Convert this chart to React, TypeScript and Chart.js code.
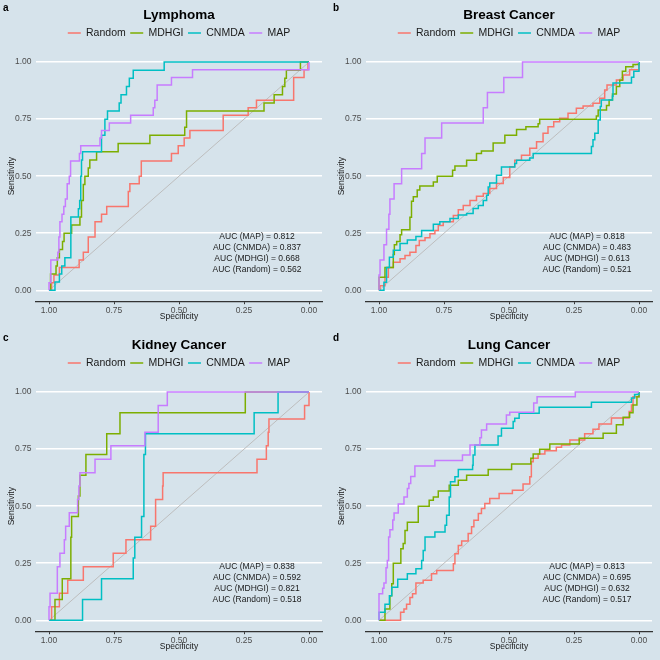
import { useEffect, useRef } from 'react';
import { Chart, registerables } from 'chart.js';

Chart.register(...registerables);

type Pt = [number, number]; // [specificity, sensitivity]

const FONT = '"Liberation Sans", Arial, Helvetica, sans-serif';
const BG = '#d6e3eb';

const methods = ['Random', 'MDHGI', 'CNMDA', 'MAP'];
const methodColors = ['#F8766D', '#7CAE00', '#00BFC4', '#C77CFF'];
const panelTitles = ['Lymphoma', 'Breast Cancer', 'Kidney Cancer', 'Lung Cancer'];
const panelLetters = ['a', 'b', 'c', 'd'];

const aucMAP = [0.812, 0.818, 0.838, 0.813];
const aucCNMDA = [0.837, 0.483, 0.592, 0.695];
const aucMDHGI = [0.668, 0.613, 0.821, 0.632];
const aucRandom = [0.562, 0.521, 0.518, 0.517];

const axisTicks = [0, 0.25, 0.5, 0.75, 1];
const axisTickLabels = ['0.00', '0.25', '0.50', '0.75', '1.00'];

const chanceLine: Pt[] = [[1, 0], [0, 1]];

// ---------- Lymphoma ----------
const lymphomaRandom: Pt[] = [[1,0],[0.99,0.033],[0.981,0.067],[0.960,0.1],[0.884,0.133],[0.868,0.167],[0.849,0.233],[0.823,0.3],[0.798,0.333],[0.778,0.367],[0.695,0.433],[0.689,0.467],[0.653,0.5],[0.645,0.567],[0.529,0.6],[0.503,0.633],[0.480,0.667],[0.458,0.7],[0.330,0.767],[0.234,0.8],[0.202,0.833],[0.059,0.933],[0.019,0.967],[0.004,1],[0,1]];
const lymphomaMDHGI: Pt[] = [[1,0],[0.994,0.071],[0.973,0.107],[0.968,0.143],[0.960,0.179],[0.948,0.214],[0.942,0.25],[0.913,0.286],[0.881,0.321],[0.875,0.393],[0.868,0.464],[0.862,0.5],[0.849,0.536],[0.843,0.571],[0.817,0.607],[0.734,0.643],[0.612,0.679],[0.478,0.714],[0.471,0.786],[0.173,0.821],[0.134,0.857],[0.102,0.893],[0.093,0.929],[0.087,0.964],[0.033,1],[0,1]];
const lymphomaCNMDA: Pt[] = [[1,0],[0.977,0.036],[0.960,0.071],[0.951,0.107],[0.939,0.143],[0.916,0.321],[0.887,0.357],[0.882,0.393],[0.878,0.5],[0.875,0.571],[0.871,0.607],[0.798,0.679],[0.785,0.75],[0.775,0.786],[0.730,0.821],[0.723,0.857],[0.702,0.893],[0.691,0.929],[0.676,0.964],[0.557,1],[0,1]];
const lymphomaMAP: Pt[] = [[1,0],[1,0.033],[0.993,0.133],[0.966,0.167],[0.962,0.233],[0.958,0.3],[0.950,0.333],[0.943,0.367],[0.937,0.4],[0.930,0.467],[0.922,0.5],[0.917,0.567],[0.883,0.6],[0.878,0.633],[0.804,0.667],[0.798,0.7],[0.768,0.733],[0.686,0.767],[0.599,0.8],[0.593,0.833],[0.584,0.9],[0.529,0.933],[0.448,0.967],[0,1]];

// ---------- Breast Cancer ----------
const breastRandom: Pt[] = [[1,0],[0.996,0.02],[0.977,0.057],[0.964,0.1],[0.945,0.123],[0.919,0.138],[0.9,0.152],[0.881,0.167],[0.858,0.196],[0.845,0.218],[0.823,0.23],[0.804,0.248],[0.785,0.262],[0.772,0.284],[0.753,0.3],[0.714,0.328],[0.695,0.353],[0.676,0.372],[0.65,0.394],[0.625,0.412],[0.599,0.424],[0.574,0.446],[0.548,0.468],[0.522,0.494],[0.497,0.541],[0.478,0.57],[0.452,0.592],[0.42,0.622],[0.394,0.651],[0.369,0.688],[0.35,0.717],[0.328,0.739],[0.305,0.754],[0.273,0.776],[0.241,0.798],[0.215,0.808],[0.177,0.82],[0.151,0.842],[0.132,0.878],[0.123,0.9],[0.087,0.922],[0.061,0.944],[0.036,0.966],[0,1]];
const breastMDHGI: Pt[] = [[1,0],[1,0.057],[0.977,0.1],[0.945,0.157],[0.941,0.2],[0.932,0.214],[0.919,0.243],[0.913,0.265],[0.881,0.32],[0.875,0.39],[0.868,0.41],[0.853,0.44],[0.843,0.457],[0.791,0.475],[0.776,0.5],[0.717,0.526],[0.708,0.545],[0.663,0.57],[0.625,0.6],[0.606,0.61],[0.561,0.645],[0.516,0.68],[0.471,0.705],[0.435,0.717],[0.388,0.73],[0.382,0.75],[0.164,0.764],[0.157,0.79],[0.125,0.81],[0.115,0.834],[0.102,0.86],[0.087,0.893],[0.074,0.92],[0.064,0.96],[0.051,0.98],[0.023,0.99],[0,1]];
const breastCNMDA: Pt[] = [[1,0],[0.981,0.035],[0.971,0.1],[0.960,0.145],[0.945,0.175],[0.919,0.205],[0.891,0.22],[0.858,0.236],[0.836,0.262],[0.791,0.289],[0.766,0.3],[0.727,0.315],[0.695,0.33],[0.663,0.336],[0.638,0.358],[0.618,0.372],[0.599,0.394],[0.586,0.416],[0.580,0.453],[0.574,0.47],[0.548,0.504],[0.529,0.54],[0.478,0.556],[0.471,0.57],[0.420,0.58],[0.407,0.6],[0.183,0.63],[0.177,0.66],[0.170,0.688],[0.157,0.746],[0.149,0.805],[0.145,0.834],[0.102,0.85],[0.100,0.908],[0.029,0.934],[0.020,0.96],[0,1]];
const breastMAP: Pt[] = [[1,0],[1,0.067],[0.996,0.133],[0.981,0.2],[0.971,0.267],[0.962,0.333],[0.958,0.4],[0.942,0.467],[0.913,0.533],[0.836,0.6],[0.823,0.667],[0.759,0.733],[0.599,0.8],[0.583,0.867],[0.520,0.933],[0.448,1],[0,1]];

// ---------- Kidney Cancer ----------
const kidneyRandom: Pt[] = [[1,0],[0.990,0.059],[0.960,0.118],[0.928,0.176],[0.868,0.235],[0.753,0.294],[0.704,0.353],[0.609,0.412],[0.590,0.529],[0.563,0.588],[0.561,0.647],[0.200,0.706],[0.164,0.765],[0.157,0.824],[0.154,0.882],[0.017,0.941],[0,1]];
const kidneyMDHGI: Pt[] = [[1,0],[0.977,0.091],[0.949,0.182],[0.916,0.364],[0.913,0.455],[0.887,0.545],[0.881,0.636],[0.858,0.727],[0.778,0.818],[0.727,0.909],[0.245,1],[0,1]];
const kidneyCNMDA: Pt[] = [[1,0],[0.871,0.091],[0.798,0.182],[0.676,0.273],[0.670,0.364],[0.644,0.455],[0.635,0.727],[0.629,0.818],[0.211,0.909],[0.119,1],[0,1]];
const kidneyMAP: Pt[] = [[1,0],[1,0.059],[0.996,0.118],[0.968,0.235],[0.958,0.294],[0.941,0.353],[0.936,0.412],[0.922,0.471],[0.890,0.529],[0.885,0.588],[0.881,0.647],[0.823,0.706],[0.762,0.765],[0.631,0.824],[0.580,0.941],[0.545,1],[0,1]];

// ---------- Lung Cancer ----------
const lungRandom: Pt[] = [[1,0],[0.917,0.035],[0.904,0.05],[0.894,0.07],[0.881,0.1],[0.871,0.116],[0.858,0.163],[0.830,0.175],[0.798,0.204],[0.778,0.218],[0.714,0.248],[0.708,0.292],[0.695,0.328],[0.682,0.347],[0.657,0.38],[0.644,0.41],[0.635,0.438],[0.618,0.468],[0.606,0.49],[0.593,0.512],[0.574,0.534],[0.538,0.556],[0.487,0.57],[0.446,0.597],[0.420,0.629],[0.414,0.695],[0.407,0.71],[0.388,0.729],[0.362,0.743],[0.318,0.758],[0.298,0.768],[0.266,0.79],[0.209,0.817],[0.177,0.837],[0.154,0.86],[0.106,0.886],[0.038,0.915],[0.029,0.944],[0.023,0.98],[0,1]];
const lungMDHGI: Pt[] = [[1,0],[0.977,0.05],[0.958,0.108],[0.951,0.16],[0.945,0.25],[0.916,0.314],[0.907,0.336],[0.900,0.394],[0.891,0.43],[0.849,0.50],[0.807,0.526],[0.791,0.54],[0.772,0.567],[0.730,0.592],[0.695,0.614],[0.663,0.636],[0.580,0.661],[0.490,0.685],[0.416,0.71],[0.407,0.729],[0.382,0.75],[0.343,0.773],[0.230,0.798],[0.138,0.82],[0.087,0.857],[0.061,0.89],[0.036,0.91],[0.023,0.944],[0.008,0.98],[0,1]];
const lungCNMDA: Pt[] = [[1,0],[1,0.035],[0.977,0.07],[0.960,0.108],[0.951,0.145],[0.928,0.18],[0.891,0.204],[0.858,0.226],[0.836,0.262],[0.830,0.306],[0.823,0.365],[0.785,0.387],[0.746,0.416],[0.740,0.46],[0.730,0.54],[0.725,0.607],[0.708,0.629],[0.695,0.661],[0.640,0.68],[0.638,0.724],[0.631,0.768],[0.542,0.808],[0.529,0.842],[0.484,0.871],[0.478,0.885],[0.461,0.907],[0.384,0.934],[0.183,0.956],[0.029,0.974],[0.017,0.99],[0,1]];
const lungMAP: Pt[] = [[1,0],[1,0.116],[0.986,0.14],[0.981,0.163],[0.973,0.23],[0.968,0.262],[0.963,0.365],[0.958,0.397],[0.947,0.44],[0.942,0.47],[0.926,0.51],[0.904,0.54],[0.891,0.578],[0.885,0.6],[0.878,0.63],[0.862,0.676],[0.785,0.70],[0.679,0.724],[0.650,0.768],[0.612,0.80],[0.606,0.834],[0.586,0.86],[0.510,0.90],[0.497,0.912],[0.405,0.952],[0.392,0.98],[0.245,1],[0,1]];

const panelCurves: Pt[][][] = [
  [lymphomaRandom, lymphomaMDHGI, lymphomaCNMDA, lymphomaMAP],
  [breastRandom, breastMDHGI, breastCNMDA, breastMAP],
  [kidneyRandom, kidneyMDHGI, kidneyCNMDA, kidneyMAP],
  [lungRandom, lungMDHGI, lungCNMDA, lungMAP],
];

const toXY = (pts: Pt[]) => pts.map(([x, y]) => ({ x, y }));
const tickLabel = (v: any) => {
  const i = axisTicks.indexOf(Number(v));
  return i >= 0 ? axisTickLabels[i] : '';
};

function Panel({ index }: { index: number }) {
  const ref = useRef<HTMLCanvasElement | null>(null);

  useEffect(() => {
    if (!ref.current) return;
    const aucLines = [
      `AUC (MAP) = ${aucMAP[index].toFixed(3)}`,
      `AUC (CNMDA) = ${aucCNMDA[index].toFixed(3)}`,
      `AUC (MDHGI) = ${aucMDHGI[index].toFixed(3)}`,
      `AUC (Random) = ${aucRandom[index].toFixed(3)}`,
    ];
    const overlay = {
      id: 'overlay' + index,
      afterDatasetsDraw(chart: any) {
        const { ctx, scales } = chart;
        const sx = scales.x;
        const sy = scales.y;
        ctx.save();
        ctx.fillStyle = '#1a1a1a';
        ctx.font = `8.5px ${FONT}`;
        ctx.textAlign = 'center';
        ctx.textBaseline = 'middle';
        aucLines.forEach((t, i) => {
          ctx.fillText(t, sx.getPixelForValue(0.2), sy.getPixelForValue(0.233 - i * 0.048));
        });
        ctx.font = `bold 10px ${FONT}`;
        ctx.textAlign = 'left';
        ctx.fillStyle = '#000000';
        ctx.fillText(panelLetters[index], 3, 8.5);
        ctx.restore();
      },
    };

    const datasets: any[] = methods.map((m, k) => ({
      label: m,
      data: toXY(panelCurves[index][k]),
      borderColor: methodColors[k],
      backgroundColor: methodColors[k],
      borderWidth: 1.5,
      pointRadius: 0,
      stepped: 'before',
      fill: false,
      order: 3 - k,
    }));
    datasets.push({
      label: 'chance',
      data: toXY(chanceLine),
      borderColor: '#bdbdbd',
      backgroundColor: '#bdbdbd',
      borderWidth: 1,
      pointRadius: 0,
      fill: false,
      order: 10,
    });

    const chart = new Chart(ref.current, {
      type: 'line',
      data: { datasets },
      plugins: [overlay],
      options: {
        responsive: false,
        animation: false,
        events: [],
        layout: { padding: { left: 0, right: 8, top: 0, bottom: 0 } },
        plugins: {
          tooltip: { enabled: false },
          title: {
            display: true,
            text: panelTitles[index],
            fullSize: false,
            color: '#000000',
            font: { family: FONT, size: 13.5, weight: 'bold', lineHeight: 1 },
            padding: { top: 8.7, bottom: 1 },
          },
          subtitle: {
            display: true,
            text: '',
            fullSize: false,
            position: 'top',
            weight: 100,
            font: { family: FONT, size: 1, lineHeight: 1 },
            padding: { top: 0, bottom: 1.5 },
          },
          legend: {
            display: true,
            position: 'top',
            fullSize: false,
            labels: {
              usePointStyle: true,
              pointStyle: 'line',
              pointStyleWidth: 13,
              padding: 4.5,
              color: '#1a1a1a',
              font: { family: FONT, size: 10.5 },
              filter: (item: any) => item.datasetIndex < 4,
              sort: (a: any, b: any) => a.datasetIndex - b.datasetIndex,
            },
          },
        } as any,
        scales: {
          x: {
            type: 'linear',
            min: -0.05,
            max: 1.05,
            reverse: true,
            afterFit: (s: any) => { s.height = 28.3; },
            afterBuildTicks: (s: any) => { s.ticks = axisTicks.map((v) => ({ value: v })); },
            ticks: {
              padding: 1,
              maxRotation: 0,
              color: '#4d4d4d',
              font: { family: FONT, size: 8.5 },
              callback: tickLabel,
            },
            grid: { drawOnChartArea: false, drawTicks: true, tickLength: 2.5, color: '#333333', lineWidth: 1 },
            border: { display: true, color: '#333333', width: 1.2 },
            title: {
              display: true,
              text: 'Specificity',
              color: '#1a1a1a',
              font: { family: FONT, size: 8.5 },
              padding: { top: 0, bottom: 8.4 },
            },
          },
          y: {
            type: 'linear',
            min: -0.05,
            max: 1.05,
            afterFit: (s: any) => { s.width = 36; },
            afterBuildTicks: (s: any) => { s.ticks = axisTicks.map((v) => ({ value: v })); },
            ticks: {
              padding: 4.5,
              color: '#4d4d4d',
              font: { family: FONT, size: 8.5 },
              callback: tickLabel,
            },
            grid: { color: '#ffffff', lineWidth: 1.5, drawTicks: false },
            border: { display: false },
            title: {
              display: true,
              text: 'Sensitivity',
              color: '#1a1a1a',
              font: { family: FONT, size: 8.5 },
              padding: { top: 6.6, bottom: 0 },
            },
          },
        } as any,
      },
    });
    return () => chart.destroy();
  }, [index]);

  return (
    <div style={{ width: 330, height: 330, background: BG }}>
      <canvas ref={ref} width={330} height={330} style={{ display: 'block', width: 330, height: 330 }} />
    </div>
  );
}

export default function App() {
  return (
    <div
      style={{
        position: 'fixed',
        left: 0,
        top: 0,
        width: 660,
        height: 660,
        background: BG,
        display: 'grid',
        gridTemplateColumns: '330px 330px',
        gridTemplateRows: '330px 330px',
      }}
    >
      {[0, 1, 2, 3].map((i) => (
        <Panel key={i} index={i} />
      ))}
    </div>
  );
}
